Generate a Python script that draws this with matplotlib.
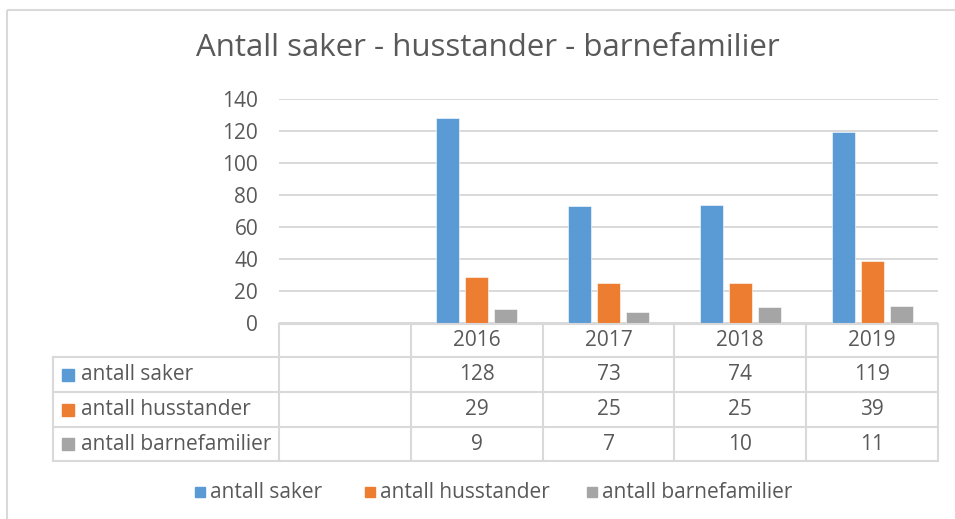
import matplotlib
matplotlib.use("Agg")
import matplotlib.pyplot as plt
from matplotlib.transforms import blended_transform_factory
from matplotlib.patches import Rectangle

# ---- data ----
title = "Antall saker - husstander - barnefamilier"
categories = ["", "2016", "2017", "2018", "2019"]
series_names = ["antall saker", "antall husstander", "antall barnefamilier"]
antall_saker = [None, 128, 73, 74, 119]
antall_husstander = [None, 29, 25, 25, 39]
antall_barnefamilier = [None, 9, 7, 10, 11]
series_values = [antall_saker, antall_husstander, antall_barnefamilier]
colors = ["#5B9BD5", "#ED7D31", "#A5A5A5"]
y_ticks = [0, 20, 40, 60, 80, 100, 120, 140]

FONT = "Open Sans"
TXT = "#595959"
LINE = "#D9D9D9"
FS = 15

W, H = 955, 519
fig = plt.figure(figsize=(W / 100, H / 100), dpi=100)


def px_rect(x0, y0, x1, y1):
    return [x0 / W, 1 - y1 / H, (x1 - x0) / W, (y1 - y0) / H]


ax = fig.add_axes(px_rect(279, 98.6, 938, 323.3))
ax.set_xlim(-0.5, len(categories) - 0.5)
ax.set_ylim(0, 140)
ax.set_yticks(y_ticks)
ax.set_yticklabels([str(v) for v in y_ticks], fontfamily=FONT, fontsize=FS, color=TXT)
ax.tick_params(axis="y", length=0, pad=15)
ax.tick_params(axis="x", length=0, labelbottom=False)
ax.set_xticks([])
ax.yaxis.grid(True, color=LINE, linewidth=1.4)
ax.set_axisbelow(True)
for s in ax.spines.values():
    s.set_visible(False)

offsets = [-0.22, 0.0, 0.22]
bar_w = 0.174
for vals, off, col in zip(series_values, offsets, colors):
    xs = [i + off for i, v in enumerate(vals) if v is not None]
    hs = [v for v in vals if v is not None]
    ax.bar(xs, hs, width=bar_w, color=col, edgecolor="white", linewidth=0.4, zorder=3)

# ---- overlay for table, legend, title, frame ----
ov = fig.add_axes([0, 0, 1, 1])
ov.set_xlim(0, W)
ov.set_ylim(H, 0)
ov.axis("off")
bt = blended_transform_factory(ax.transData, ov.transData)

# frame
ov.plot([7, 7], [10, H], color=LINE, lw=1.5, solid_capstyle="butt")
ov.plot([7, W], [10, 10], color=LINE, lw=1.5, solid_capstyle="butt")

fig.text(488 / W, 1 - 48 / H, title, ha="center", va="center",
         fontfamily=FONT, fontsize=22.5, color=TXT)

# table
row_edges = [324, 357, 392, 427, 461]
ncol = len(categories)
x_left = -0.5
x_right = ncol - 0.5
ov.plot([x_left, x_right], [row_edges[0]] * 2, color=LINE, lw=1.5, transform=bt)
for y in row_edges[1:]:
    ov.plot([53, 279], [y, y], color=LINE, lw=1.5)
    ov.plot([x_left, x_right], [y, y], color=LINE, lw=1.5, transform=bt)
ov.plot([53, 53], [row_edges[1], row_edges[-1]], color=LINE, lw=1.5)
for k in range(ncol + 1):
    xb = k - 0.5
    ov.plot([xb, xb], [row_edges[0], row_edges[-1]], color=LINE, lw=1.5, transform=bt)

# header
hy = (row_edges[0] + row_edges[1]) / 2
for i, c in enumerate(categories):
    ov.text(i, hy, c, transform=bt, ha="center", va="center",
            fontfamily=FONT, fontsize=FS, color=TXT)

for r, (name, vals, col) in enumerate(zip(series_names, series_values, colors)):
    yc = (row_edges[r + 1] + row_edges[r + 2]) / 2
    ov.add_patch(Rectangle((62, yc - 6), 12, 12, color=col))
    ov.text(81, yc, name, ha="left", va="center", fontfamily=FONT, fontsize=FS, color=TXT)
    for i, v in enumerate(vals):
        if v is not None:
            ov.text(i, yc, str(v), transform=bt, ha="center", va="center",
                    fontfamily=FONT, fontsize=FS, color=TXT)

# bottom legend
leg_sq = [195, 365, 587]
leg_y = 492
for x, name, col in zip(leg_sq, series_names, colors):
    ov.add_patch(Rectangle((x, leg_y - 5), 10, 10, color=col))
    ov.text(x + 15, leg_y, name, ha="left", va="center", fontfamily=FONT, fontsize=FS, color=TXT)

fig.savefig("out.png", dpi=100)
